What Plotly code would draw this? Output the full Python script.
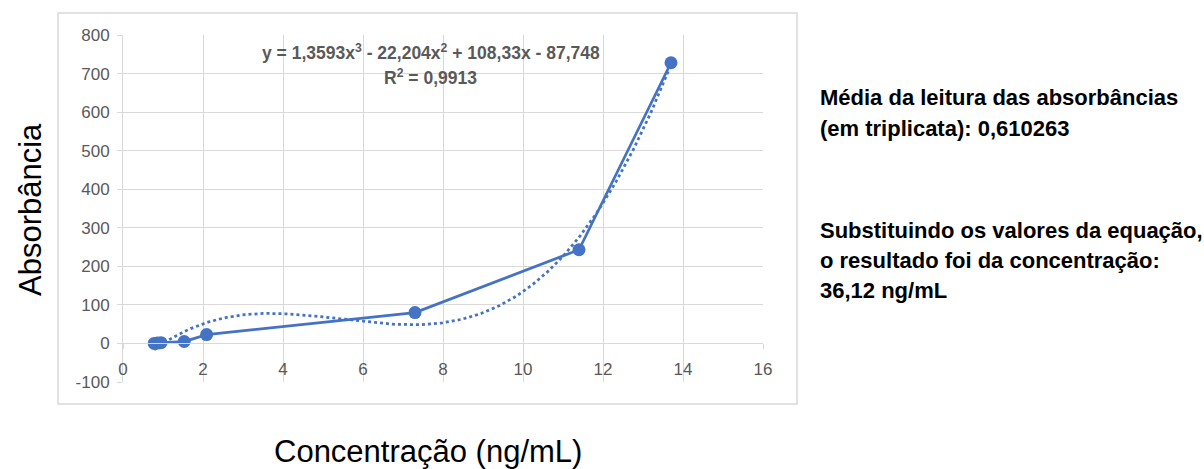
import numpy as np
import plotly.graph_objects as go

# Data
concentracao = [0.78, 0.86, 0.95, 1.53, 2.09, 7.3, 11.4, 13.7]
absorbancia = [0, 1, 2, 5, 23, 80, 243, 728]

# Displayed polynomial trendline coefficients (x^3, x^2, x, 1)
trend_coef = [1.3593, -22.204, 108.33, -87.748]

x_ticks = [0, 2, 4, 6, 8, 10, 12, 14, 16]
x_tick_labels = ["0", "2", "4", "6", "8", "10", "12", "14", "16"]
y_ticks = [-100, 0, 100, 200, 300, 400, 500, 600, 700, 800]
y_tick_labels = ["-100", "0", "100", "200", "300", "400", "500", "600", "700", "800"]

eq_text = "y = 1,3593x<sup>3</sup> - 22,204x<sup>2</sup> + 108,33x - 87,748"
r2_text = "R<sup>2</sup> = 0,9913"
side_text_1 = ["Média da leitura das absorbâncias", "(em triplicata): 0,610263"]
side_text_2 = ["Substituindo os valores da equação,", "o resultado foi da concentração:", "36,12 ng/mL"]

BLUE = "#4472C4"
GRID = "#d9d9d9"
TXT = "#595959"
FONT = "Liberation Sans, Arial, sans-serif"

# plot area in pixels
W, H = 1204, 469
L, R, T, B = 123, 763, 35, 382
pw, ph = R - L, B - T


def px(xp):
    return (xp - L) / pw


def py(yp):
    return (B - yp) / ph


xt = np.linspace(min(concentracao), max(concentracao), 200)
yt = np.polyval(trend_coef, xt)

fig = go.Figure()
fig.add_trace(go.Scatter(x=xt, y=yt, mode="lines",
                         line=dict(color=BLUE, width=2.75, dash="dot"),
                         showlegend=False, hoverinfo="skip"))
fig.add_trace(go.Scatter(x=concentracao, y=absorbancia, mode="lines+markers",
                         line=dict(color=BLUE, width=2.75),
                         marker=dict(color=BLUE, size=13),
                         showlegend=False))

fig.update_layout(
    width=W, height=H,
    margin=dict(l=L, r=W - R, t=T, b=H - B, pad=0),
    paper_bgcolor="white", plot_bgcolor="white",
    font=dict(family=FONT, color=TXT),
    xaxis=dict(range=[0, 16], tickvals=x_ticks, ticktext=x_tick_labels,
               showgrid=True, gridcolor=GRID,
               gridwidth=1, zeroline=False, showline=True, linecolor=GRID,
               linewidth=1, ticks="outside", ticklen=5, tickcolor=GRID,
               tickfont=dict(size=17, color=TXT), anchor="free",
               position=1 / 9, ticklabelstandoff=5),
    yaxis=dict(range=[-100, 800], tickvals=y_ticks, ticktext=y_tick_labels,
               showgrid=True, gridcolor=GRID,
               gridwidth=1, zeroline=False, showline=True, linecolor=GRID,
               linewidth=1, ticks="outside", ticklen=5, tickcolor=GRID,
               tickfont=dict(size=17, color=TXT), ticklabelstandoff=4),
)

# outer chart frame
fig.add_shape(type="rect", xref="paper", yref="paper",
              x0=px(58), x1=px(797), y0=py(404), y1=py(13),
              line=dict(color=GRID, width=1.5), layer="below")

# trendline equation
fig.add_annotation(x=px(431), y=py(52), xref="paper", yref="paper",
                   text="<b>" + eq_text + "</b>", showarrow=False,
                   xanchor="center", yanchor="middle",
                   font=dict(size=17.5, color=TXT, family=FONT))
fig.add_annotation(x=px(430), y=py(77), xref="paper", yref="paper",
                   text="<b>" + r2_text + "</b>", showarrow=False,
                   xanchor="center", yanchor="middle",
                   font=dict(size=17.5, color=TXT, family=FONT))

# axis titles
fig.add_annotation(x=px(30), y=py(210), xref="paper", yref="paper",
                   text="Absorbância", showarrow=False, textangle=-90,
                   xanchor="center", yanchor="middle",
                   font=dict(size=31, color="black", family=FONT))
fig.add_annotation(x=px(428), y=py(451), xref="paper", yref="paper",
                   text="Concentração (ng/mL)", showarrow=False,
                   xanchor="center", yanchor="middle",
                   font=dict(size=31, color="black", family=FONT))

# side texts
line_y1 = [97, 128]
for s, yy in zip(side_text_1, line_y1):
    fig.add_annotation(x=px(818), y=py(yy), xref="paper", yref="paper",
                       text="<b>" + s + "</b>", showarrow=False,
                       xanchor="left", yanchor="middle",
                       font=dict(size=22, color="black", family=FONT))
line_y2 = [230, 260, 290]
for s, yy in zip(side_text_2, line_y2):
    fig.add_annotation(x=px(818), y=py(yy), xref="paper", yref="paper",
                       text="<b>" + s + "</b>", showarrow=False,
                       xanchor="left", yanchor="middle",
                       font=dict(size=22, color="black", family=FONT))

fig.write_html("out.html",
               config={"displayModeBar": False},
               post_script="document.body.style.margin='0';document.body.style.overflow='hidden';")
